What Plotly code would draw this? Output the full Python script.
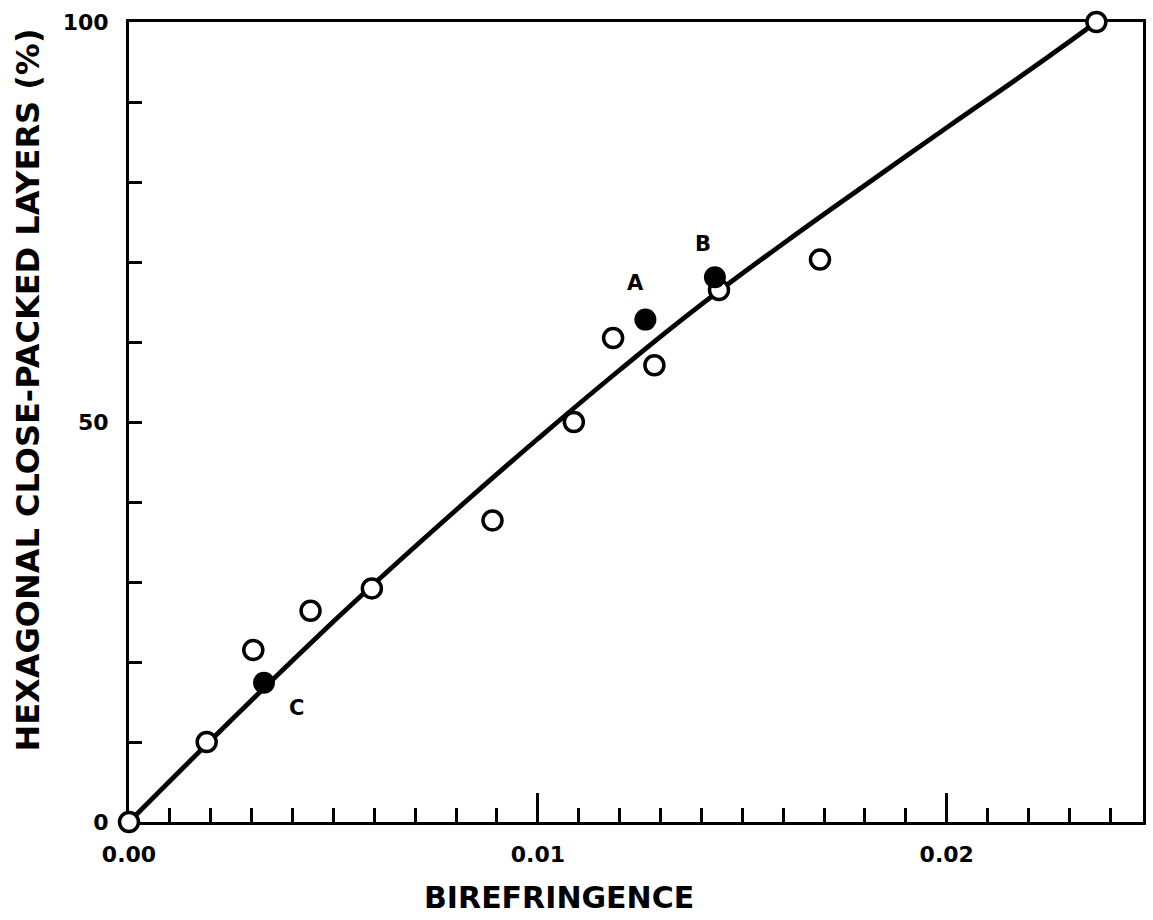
import plotly.graph_objects as go

# Measured samples (open symbols)
open_x = [0.0, 0.0019, 0.00304, 0.00444, 0.00594, 0.00889, 0.01088,
          0.01184, 0.01285, 0.01443, 0.0169, 0.02366]
open_y = [0.0, 10.0, 21.5, 26.4, 29.2, 37.7, 50.0, 60.5, 57.1, 66.5, 70.3, 100.0]

# Labelled samples (filled symbols)
filled_labels = ["C", "A", "B"]
filled_x = [0.0033, 0.01263, 0.01433]
filled_y = [17.4, 62.8, 68.1]

# Smooth fitted curve
fit_x = [0.0, 0.002, 0.004, 0.006, 0.008, 0.010, 0.012, 0.014, 0.016,
         0.018, 0.020, 0.022, 0.02366]
fit_y = [0.0, 10.2, 20.2, 29.8, 39.0, 47.9, 56.5, 64.7, 72.3,
         79.6, 86.8, 93.9, 100.0]

x_tickvals = [0.0, 0.01, 0.02]
x_ticktext = ["0.00", "0.01", "0.02"]
y_tickvals = [0, 50, 100]
y_ticktext = ["0", "50", "100"]

FONT = "DejaVu Sans"
BLACK = "#000000"

fig = go.Figure()

fig.add_trace(go.Scatter(
    x=fit_x, y=fit_y, mode="lines",
    line=dict(color=BLACK, width=4.8, shape="spline", smoothing=1.3),
    hoverinfo="skip", showlegend=False, cliponaxis=False,
))

fig.add_trace(go.Scatter(
    x=open_x, y=open_y, mode="markers",
    marker=dict(symbol="circle", size=19, color="white",
                line=dict(color=BLACK, width=3.5)),
    showlegend=False, cliponaxis=False,
))

fig.add_trace(go.Scatter(
    x=filled_x, y=filled_y, mode="markers",
    marker=dict(symbol="circle", size=22, color=BLACK,
                line=dict(color=BLACK, width=0)),
    showlegend=False, cliponaxis=False,
))

# Point labels placed beside the filled symbols
label_offsets = {"C": (0.0008, -3.2), "A": (-0.00025, 4.6), "B": (-0.00028, 4.1)}
for lab, xv, yv in zip(filled_labels, filled_x, filled_y):
    dx, dy = label_offsets[lab]
    fig.add_annotation(
        x=xv + dx, y=yv + dy, text=lab, showarrow=False,
        font=dict(family=FONT, size=21, color=BLACK, weight="bold"),
        xanchor="center", yanchor="middle",
    )

fig.add_annotation(
    text="BIREFRINGENCE", xref="paper", yref="paper",
    x=0.424, y=-0.07, xanchor="center", yanchor="top", showarrow=False,
    font=dict(family=FONT, size=30, color=BLACK, weight="bold"),
)
fig.add_annotation(
    text="HEXAGONAL CLOSE-PACKED LAYERS (%)", xref="paper", yref="paper",
    x=-0.1, y=0.54, xanchor="center", yanchor="middle", textangle=-90,
    showarrow=False,
    font=dict(family=FONT, size=32, color=BLACK, weight="bold"),
)

fig.update_xaxes(
    range=[0, 0.0248], showgrid=False, zeroline=False,
    showline=True, linecolor=BLACK, linewidth=3, mirror=True,
    ticks="inside", ticklen=29, tickwidth=3, tickcolor=BLACK,
    tickvals=x_tickvals, ticktext=x_ticktext,
    tickfont=dict(family=FONT, size=22, color=BLACK, weight="bold"),
    ticklabelstandoff=11,
    minor=dict(ticks="inside", dtick=0.001, ticklen=14, tickwidth=3,
               tickcolor=BLACK, showgrid=False),
    layer="below traces",
)
fig.update_yaxes(
    range=[0, 100], showgrid=False, zeroline=False,
    showline=True, linecolor=BLACK, linewidth=3, mirror=True,
    ticks="inside", ticklen=13, tickwidth=3, tickcolor=BLACK,
    tickvals=y_tickvals, ticktext=y_ticktext,
    tickfont=dict(family=FONT, size=22, color=BLACK, weight="bold"),
    ticklabelstandoff=13,
    minor=dict(ticks="inside", dtick=10, ticklen=13, tickwidth=3,
               tickcolor=BLACK, showgrid=False),
    layer="below traces",
)

fig.update_layout(
    width=1153, height=920,
    margin=dict(l=129, r=7, t=22, b=98),
    paper_bgcolor="white", plot_bgcolor="white",
    showlegend=False,
)

fig.write_html("out.html")
